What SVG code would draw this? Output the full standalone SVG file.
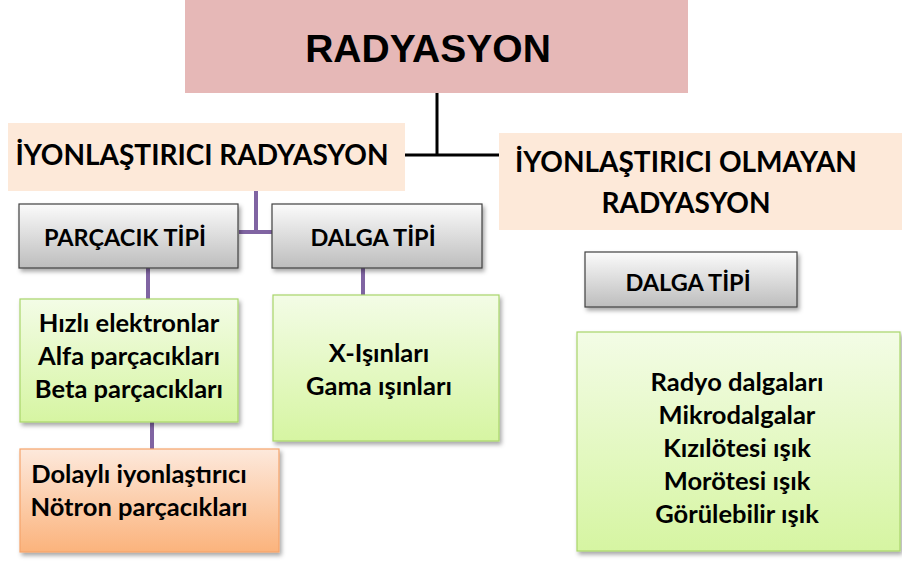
<svg xmlns="http://www.w3.org/2000/svg" width="902" height="561" viewBox="0 0 902 561">
<defs>
<linearGradient id="gGray" x1="0" y1="0" x2="0" y2="1"><stop offset="0" stop-color="#fbfbfb"/><stop offset="1" stop-color="#bdbdbd"/></linearGradient>
<linearGradient id="gGreen" x1="0" y1="0" x2="0" y2="1"><stop offset="0" stop-color="#f3fce6"/><stop offset="1" stop-color="#d6f5a2"/></linearGradient>
<linearGradient id="gOrange" x1="0" y1="0" x2="0" y2="1"><stop offset="0" stop-color="#fde9dc"/><stop offset="1" stop-color="#fbb37c"/></linearGradient>
<filter id="sh" x="-10%" y="-10%" width="125%" height="130%"><feDropShadow dx="2" dy="3" stdDeviation="2" flood-color="#000" flood-opacity="0.35"/></filter>
</defs>
<style>
text{font-family:Lato,"Liberation Sans",sans-serif;font-weight:bold;fill:#000;text-anchor:middle}
.t1{font-family:"Liberation Sans",Arial,sans-serif;font-size:39px}
.t2{font-size:28px}
.t3{font-size:23.5px}
.t4{font-size:25.5px}
.gray{fill:url(#gGray);stroke:#404040;stroke-width:1.2;filter:url(#sh)}
.green{fill:url(#gGreen);stroke:#a8d56a;stroke-width:1.2;filter:url(#sh)}
.orange{fill:url(#gOrange);stroke:#f5a46b;stroke-width:1.2;filter:url(#sh)}
.blk{stroke:#000;stroke-width:3;fill:none}
.pur{stroke:#8064a2;stroke-width:4;fill:none}
</style>
<g id="connectors">
<path class="blk" d="M437 93 V155 M404 155 H499"/>
<path class="pur" d="M256 191 V232 M239 232 H272"/>
<path class="pur" d="M148 268 V299"/>
<path class="pur" d="M363 268 V295"/>
<path class="pur" d="M152 412 V449"/>
</g>
<g id="radyasyon">
<rect x="185" y="0" width="503" height="93" fill="#e6b8b7"/>
<text class="t1" x="428" y="62">RADYASYON</text>
</g>
<g id="iyonlastirici">
<rect x="8" y="123" width="397" height="68" fill="#fde9d9"/>
<text class="t2" x="202" y="165">İYONLAŞTIRICI RADYASYON</text>
</g>
<g id="iyonlastirici-olmayan">
<rect x="499" y="133" width="403" height="97" fill="#fde9d9"/>
<text class="t2" x="686" y="172">İYONLAŞTIRICI OLMAYAN</text>
<text class="t2" x="686" y="213">RADYASYON</text>
</g>
<g id="parcacik-tipi">
<rect class="gray" x="19" y="204" width="219" height="64"/>
<text class="t3" x="125" y="246">PARÇACIK TİPİ</text>
</g>
<g id="dalga-tipi-1">
<rect class="gray" x="272" y="204" width="210" height="64"/>
<text class="t3" x="373" y="246">DALGA TİPİ</text>
</g>
<g id="dalga-tipi-2">
<rect class="gray" x="585" y="252" width="212" height="55"/>
<text class="t3" x="688" y="291">DALGA TİPİ</text>
</g>
<g id="parcaciklar">
<rect class="green" x="20" y="299" width="218" height="123"/>
<text class="t4" x="129" y="332">Hızlı elektronlar</text>
<text class="t4" x="129" y="365">Alfa parçacıkları</text>
<text class="t4" x="129" y="398">Beta parçacıkları</text>
</g>
<g id="notron">
<rect class="orange" x="20" y="449" width="259" height="103"/>
<text class="t4" x="139" y="483">Dolaylı iyonlaştırıcı</text>
<text class="t4" x="139" y="516">Nötron parçacıkları</text>
</g>
<g id="x-gama">
<rect class="green" x="273" y="295" width="226" height="146"/>
<text class="t4" x="379" y="362">X-Işınları</text>
<text class="t4" x="379" y="395">Gama ışınları</text>
</g>
<g id="iyonlastirici-olmayan-liste">
<rect class="green" x="577" y="332" width="323" height="219"/>
<text class="t4" x="737" y="391">Radyo dalgaları</text>
<text class="t4" x="737" y="424">Mikrodalgalar</text>
<text class="t4" x="737" y="457">Kızılötesi ışık</text>
<text class="t4" x="737" y="490">Morötesi ışık</text>
<text class="t4" x="737" y="523">Görülebilir ışık</text>
</g>
</svg>
